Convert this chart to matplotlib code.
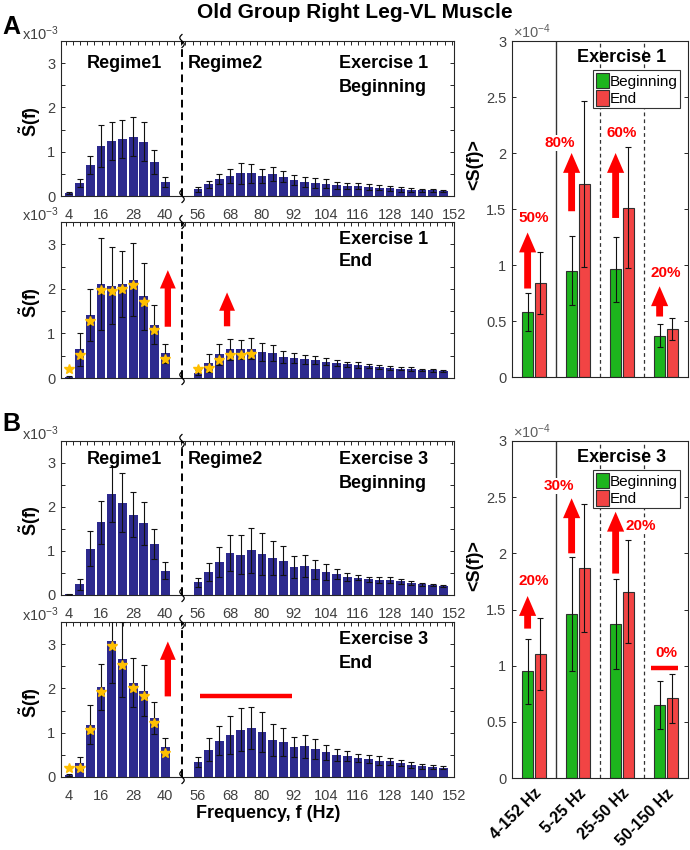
import matplotlib
matplotlib.use('Agg')
import matplotlib.pyplot as plt
import numpy as np
from matplotlib.ticker import MultipleLocator, FormatStrFormatter
from matplotlib.patches import Patch
from matplotlib.lines import Line2D
from matplotlib.transforms import ScaledTranslation

plt.rcParams['font.family'] = ['Liberation Sans', 'DejaVu Sans']
plt.rcParams['mathtext.fontset'] = 'custom'
plt.rcParams['mathtext.rm'] = 'Liberation Sans'
plt.rcParams['mathtext.bf'] = 'Liberation Sans:bold'
plt.rcParams['mathtext.it'] = 'Liberation Sans:italic'

# ---------------- data (left panels, units x10^-3) ----------------
f_reg1 = [4, 8, 12, 16, 20, 24, 28, 32, 36, 40]
f_reg2 = [56, 60, 64, 68, 72, 76, 80, 84, 88, 92, 96, 100, 104, 108, 112, 116,
          120, 124, 128, 132, 136, 140, 144, 148]
ticks_reg1 = [4, 16, 28, 40]
ticks_reg2 = [56, 68, 80, 92, 104, 116, 128, 140, 152]

ex1_beg_r1 = [0.07, 0.30, 0.70, 1.13, 1.24, 1.29, 1.34, 1.23, 0.77, 0.32]
ex1_beg_r1_err = [0.03, 0.09, 0.21, 0.47, 0.43, 0.43, 0.44, 0.43, 0.27, 0.11]
ex1_beg_r2 = [0.15, 0.27, 0.38, 0.45, 0.51, 0.51, 0.45, 0.49, 0.44, 0.36, 0.32, 0.30,
              0.28, 0.24, 0.23, 0.22, 0.20, 0.19, 0.17, 0.15, 0.14, 0.13, 0.13, 0.12]
ex1_beg_r2_err = [0.05, 0.08, 0.12, 0.15, 0.23, 0.21, 0.16, 0.16, 0.12, 0.11, 0.11, 0.11,
                  0.10, 0.08, 0.07, 0.07, 0.06, 0.06, 0.05, 0.05, 0.04, 0.03, 0.03, 0.02]

ex1_end_r1 = [0.03, 0.64, 1.41, 2.10, 2.07, 2.11, 2.20, 1.83, 1.20, 0.55]
ex1_end_r1_err = [0.02, 0.36, 0.59, 1.03, 0.86, 0.75, 0.82, 0.75, 0.44, 0.21]
ex1_end_r2 = [0.12, 0.34, 0.53, 0.64, 0.64, 0.66, 0.58, 0.56, 0.47, 0.45, 0.42, 0.40,
              0.37, 0.34, 0.31, 0.29, 0.27, 0.25, 0.23, 0.21, 0.20, 0.18, 0.17, 0.16]
ex1_end_r2_err = [0.05, 0.20, 0.24, 0.24, 0.22, 0.24, 0.20, 0.17, 0.13, 0.11, 0.10, 0.09,
                  0.08, 0.07, 0.06, 0.06, 0.05, 0.05, 0.04, 0.04, 0.04, 0.03, 0.03, 0.03]
ex1_end_star_r1 = [4, 8, 12, 16, 20, 24, 28, 32, 36, 40]
ex1_end_star_r2 = [56, 60, 64, 68, 72, 76]

ex3_beg_r1 = [0.02, 0.24, 1.05, 1.65, 2.29, 2.10, 1.82, 1.63, 1.16, 0.55]
ex3_beg_r1_err = [0.01, 0.12, 0.40, 0.49, 0.63, 0.67, 0.51, 0.49, 0.35, 0.19]
ex3_beg_r2 = [0.29, 0.52, 0.74, 0.95, 0.92, 1.02, 0.93, 0.84, 0.78, 0.64, 0.66, 0.58,
              0.52, 0.47, 0.41, 0.39, 0.36, 0.34, 0.34, 0.31, 0.27, 0.24, 0.22, 0.20]
ex3_beg_r2_err = [0.10, 0.21, 0.34, 0.41, 0.44, 0.51, 0.47, 0.39, 0.33, 0.25, 0.25, 0.22,
                  0.18, 0.11, 0.10, 0.06, 0.06, 0.06, 0.06, 0.05, 0.04, 0.03, 0.02, 0.02]

ex3_end_r1 = [0.05, 0.31, 1.18, 2.04, 3.07, 2.66, 2.13, 1.95, 1.33, 0.67]
ex3_end_r1_err = [0.02, 0.15, 0.44, 0.52, 0.95, 0.85, 0.56, 0.58, 0.37, 0.20]
ex3_end_r2 = [0.34, 0.62, 0.82, 0.94, 1.07, 1.11, 1.01, 0.83, 0.79, 0.68, 0.69, 0.63,
              0.56, 0.50, 0.47, 0.43, 0.41, 0.37, 0.36, 0.32, 0.28, 0.24, 0.22, 0.21]
ex3_end_r2_err = [0.12, 0.25, 0.33, 0.43, 0.49, 0.48, 0.45, 0.36, 0.32, 0.22, 0.25, 0.22,
                  0.17, 0.13, 0.11, 0.09, 0.09, 0.10, 0.08, 0.07, 0.07, 0.06, 0.05, 0.04]
ex3_end_star_r1 = [4, 8, 12, 16, 20, 24, 28, 32, 36, 40]
ex3_end_star_r2 = []

# ---------------- data (right panels, units x10^-4) ----------------
bands = ['4-152 Hz', '5-25 Hz', '25-50 Hz', '50-150 Hz']
ex1_beg = [0.58, 0.95, 0.96, 0.37]
ex1_beg_err = [0.17, 0.31, 0.29, 0.10]
ex1_end = [0.84, 1.72, 1.51, 0.43]
ex1_end_err = [0.28, 0.74, 0.54, 0.10]
ex1_pct = ['50%', '80%', '60%', '20%']
ex3_beg = [0.95, 1.46, 1.37, 0.65]
ex3_beg_err = [0.29, 0.51, 0.40, 0.21]
ex3_end = [1.10, 1.87, 1.66, 0.71]
ex3_end_err = [0.32, 0.57, 0.46, 0.22]
ex3_pct = ['20%', '30%', '20%', '0%']

# ---------------- style ----------------
W, H = 690, 850
BAR = '#2d2a8e'
GREEN = '#1db41d'
RED_BAR = '#f24444'
RED = '#ff0000'
STAR = '#ffbf00'
SPINE = '#262626'
TC = '#404040'

fig = plt.figure(figsize=(W / 100, H / 100), dpi=100)


def rect(x0, y0, x1, y1):
    return [x0 / W, 1 - y1 / H, (x1 - x0) / W, (y1 - y0) / H]


def ftext(x, y, s, **kw):
    return fig.text(x / W, 1 - y / H, s, **kw)


def arrow(ax, x, y0, y1, scale=12):
    ax.annotate('', xy=(x, y1), xytext=(x, y0),
                arrowprops=dict(arrowstyle='simple,head_length=1.1,head_width=0.95,tail_width=0.38',
                                mutation_scale=scale, color=RED, lw=0,
                                shrinkA=0, shrinkB=0), zorder=6)


def squiggle(xp, yp):
    t = np.linspace(-1, 1, 40)
    xs = xp + 2.2 * np.sin(np.pi * t)
    ys = yp + 6.5 * t
    fig.add_artist(Line2D([xp - 2.5, xp + 2.5], [1 - yp / H] * 2, transform=fig.transFigure,
                          color='white', lw=2, zorder=10))
    fig.add_artist(Line2D(xs / W, 1 - ys / H, transform=fig.transFigure,
                          color='black', lw=0.9, zorder=11))


def left_panel(y0, y1, r1, e1, r2, e2, star1=None, star2=None, xlabels=True):
    axa = fig.add_axes(rect(61, y0, 182, y1))
    axb = fig.add_axes(rect(182, y0, 454, y1), sharey=axa)
    for ax, f, v, e, st in ((axa, f_reg1, r1, e1, star1), (axb, f_reg2, r2, e2, star2)):
        ax.bar(f, v, width=3.3, color=BAR, edgecolor='none', zorder=2)
        ax.errorbar(f, v, yerr=e, fmt='none', ecolor='#111111', elinewidth=0.8,
                    capsize=2, capthick=0.8, zorder=3)
        if st:
            vals = [v[f.index(s)] for s in st]
            sy = [max(val - 0.12, 0.2) for val in vals]
            ax.plot(st, sy, ls='none', marker='*', ms=7.5, color=STAR, mec=STAR, zorder=4)
        for sp in ax.spines.values():
            sp.set_color(SPINE)
            sp.set_linewidth(0.8)
        ax.xaxis.set_minor_locator(MultipleLocator(2.7))
        ax.tick_params(axis='x', which='major', bottom=False, top=False,
                       labelbottom=xlabels, labelsize=10.5, labelcolor=TC, pad=5)
        ax.tick_params(axis='x', which='minor', bottom=False, top=True, direction='in',
                       length=3, width=0.7, color=SPINE)
    axa.set_xlim(1, 46.3)
    axb.set_xlim(50, 152.001)
    axa.set_xticks(ticks_reg1)
    axb.set_xticks(ticks_reg2)
    axa.set_ylim(0, 3.5)
    axa.set_yticks([0, 1, 2, 3])
    axa.yaxis.set_minor_locator(MultipleLocator(0.5))
    axa.tick_params(axis='y', which='both', direction='in', left=True, right=False,
                    length=3, width=0.7, color=SPINE, labelsize=10.5, labelcolor=TC, pad=4)
    axb.tick_params(axis='y', which='both', direction='in', left=False, right=True,
                    labelleft=False, length=3, width=0.7, color=SPINE)
    axa.spines['right'].set_visible(False)
    axb.spines['left'].set_visible(False)
    axb.plot([0, 0], [0, 1], transform=axb.transAxes, color='black', lw=1.4,
             ls=(0, (4, 2.5)), clip_on=False, zorder=5)
    squiggle(182, y0)
    squiggle(182, y1)
    ftext(22, y0 - 7, 'x10$^{\\mathregular{-3}}$', fontsize=10.5, color=TC, ha='left', va='center')
    ftext(30, (y0 + y1) / 2 + 3, r'$\mathbf{\tilde{S}(f)}$', fontsize=13, rotation=90,
          ha='center', va='center')
    return axa, axb


def right_panel(y0, y1, beg, beg_e, end, end_e, title, xlabels):
    ax = fig.add_axes(rect(512, y0, 688, y1))
    x = np.arange(1, len(bands) + 1)
    ax.bar(x - 0.145, beg, width=0.24, color=GREEN, edgecolor='#303030', lw=0.8, zorder=2)
    ax.bar(x + 0.145, end, width=0.24, color=RED_BAR, edgecolor='#303030', lw=0.8, zorder=2)
    ax.errorbar(x - 0.145, beg, yerr=beg_e, fmt='none', ecolor='#111111', elinewidth=0.8,
                capsize=2, capthick=0.8, zorder=3)
    ax.errorbar(x + 0.145, end, yerr=end_e, fmt='none', ecolor='#111111', elinewidth=0.8,
                capsize=2, capthick=0.8, zorder=3)
    ax.axvline(1.5, color='#333333', lw=1.0, zorder=1)
    ax.axvline(2.5, color='#333333', lw=0.9, ls=(0, (3, 2.5)), zorder=1)
    ax.axvline(3.5, color='#333333', lw=0.9, ls=(0, (3, 2.5)), zorder=1)
    ax.set_xlim(0.5, 4.5)
    ax.set_ylim(0, 3)
    ax.set_yticks(np.arange(0, 3.01, 0.5))
    ax.yaxis.set_major_formatter(FormatStrFormatter('%g'))
    ax.set_xticks(x)
    if xlabels:
        ax.set_xticklabels(bands, rotation=45, ha='right', rotation_mode='anchor',
                           fontsize=11.5, fontweight='bold')
        for lab in ax.get_xticklabels():
            lab.set_transform(lab.get_transform() +
                              ScaledTranslation(6 / 100, 0, fig.dpi_scale_trans))
    ax.tick_params(axis='x', bottom=False, labelbottom=xlabels, pad=2)
    ax.tick_params(axis='y', direction='in', left=True, right=True, length=3, width=0.7,
                   color=SPINE, labelsize=10.5, labelcolor=TC, pad=4)
    for sp in ax.spines.values():
        sp.set_color(SPINE)
        sp.set_linewidth(0.8)
    leg = ax.legend([Patch(fc=GREEN, ec='#303030', lw=0.8), Patch(fc=RED_BAR, ec='#303030', lw=0.8)],
                    ['Beginning', 'End'], loc='upper right', bbox_to_anchor=(0.956, 0.913),
                    fontsize=11, frameon=True, fancybox=False, edgecolor='#333333',
                    framealpha=1, borderpad=0.15, handlelength=0.85, handleheight=1.2,
                    handletextpad=0.1, labelspacing=0.1, borderaxespad=0)
    leg.get_frame().set_linewidth(0.8)
    leg.set_zorder(7)
    ax.text(0.621, 0.952, title, transform=ax.transAxes, ha='center', va='center',
            fontsize=13, fontweight='bold')
    ftext(513, y0 - 9, '×10$^{\\mathregular{-4}}$', fontsize=10.5, color='#606060',
          ha='left', va='center')
    ftext(475, (y0 + y1) / 2 - 44, '<S(f)>', fontsize=13, fontweight='bold', rotation=90,
          ha='center', va='center')
    return ax


# ---------------- left panels ----------------
a1, b1 = left_panel(41, 196, ex1_beg_r1, ex1_beg_r1_err, ex1_beg_r2, ex1_beg_r2_err)
a2, b2 = left_panel(222, 378, ex1_end_r1, ex1_end_r1_err, ex1_end_r2, ex1_end_r2_err,
                    ex1_end_star_r1, ex1_end_star_r2, xlabels=False)
a3, b3 = left_panel(441, 595, ex3_beg_r1, ex3_beg_r1_err, ex3_beg_r2, ex3_beg_r2_err)
a4, b4 = left_panel(622, 777, ex3_end_r1, ex3_end_r1_err, ex3_end_r2, ex3_end_r2_err,
                    ex3_end_star_r1, ex3_end_star_r2)

bold = dict(fontsize=13, fontweight='bold', ha='left', va='center')
ftext(87, 63, 'Regime1', **bold)
ftext(188, 63, 'Regime2', **bold)
ftext(339, 63, 'Exercise 1', **bold)
ftext(339, 88, 'Beginning', **bold)
ftext(339, 240, 'Exercise 1', **bold)
ftext(339, 261, 'End', **bold)
ftext(87, 460, 'Regime1', **bold)
ftext(188, 460, 'Regime2', **bold)
ftext(339, 460, 'Exercise 3', **bold)
ftext(339, 483, 'Beginning', **bold)
ftext(339, 640, 'Exercise 3', **bold)
ftext(339, 663, 'End', **bold)

arrow(a2, 41, 1.15, 2.42)
arrow(b2, 66.9, 1.16, 1.92)
arrow(a4, 41, 1.82, 3.06)
b4.plot([56.7, 91.2], [1.83, 1.83], color=RED, lw=3.2, solid_capstyle='butt', zorder=6)

# ---------------- right panels ----------------
r1 = right_panel(41, 377, ex1_beg, ex1_beg_err, ex1_end, ex1_end_err, 'Exercise 1', False)
r3 = right_panel(441, 778, ex3_beg, ex3_beg_err, ex3_end, ex3_end_err, 'Exercise 3', True)

pct_kw = dict(color=RED, fontsize=11, fontweight='bold', ha='center', va='center',
              bbox=dict(fc='white', ec='none', pad=0.5), zorder=6)
for (x, y0, y1) in [(0.855, 0.79, 1.29), (1.855, 1.48, 2.0), (2.855, 1.42, 2.0), (3.855, 0.54, 0.81)]:
    arrow(r1, x, y0, y1, scale=13)
for (x, y), s in zip([(1.0, 1.42), (1.575, 2.09), (3.0, 2.18), (4.0, 0.93)], ex1_pct):
    r1.text(x, y, s, **pct_kw)

for (x, y0, y1) in [(0.855, 1.33, 1.62), (1.855, 2.0, 2.49), (2.855, 1.82, 2.37)]:
    arrow(r3, x, y0, y1, scale=13)
r3.plot([3.67, 4.275], [0.98, 0.98], color=RED, lw=3.2, solid_capstyle='butt', zorder=6)
for (x, y), s in zip([(1.0, 1.75), (1.575, 2.6), (3.43, 2.24), (4.0, 1.11)], ex3_pct):
    r3.text(x, y, s, **pct_kw)

# ---------------- global text ----------------
ftext(355, 12, 'Old Group Right Leg-VL Muscle', fontsize=15, fontweight='bold',
      ha='center', va='center')
ftext(2, 27, 'A', fontsize=18, fontweight='bold', ha='left', va='center')
ftext(2, 424, 'B', fontsize=18, fontweight='bold', ha='left', va='center')
ftext(268, 813, 'Frequency, f (Hz)', fontsize=13, fontweight='bold', ha='center', va='center')

fig.savefig('out.png', dpi=100)
